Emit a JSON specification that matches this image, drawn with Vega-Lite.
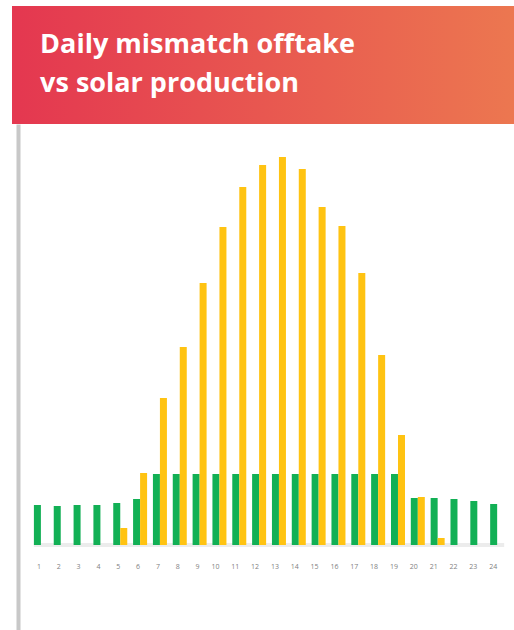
{
  "$schema": "https://vega.github.io/schema/vega-lite/v6.json",
  "padding": {"left": 12, "top": 6, "right": 0, "bottom": 0},
  "spacing": 0,
  "background": "white",
  "config": {"view": {"stroke": null}, "font": "Open Sans"},
  "datasets": {
    "header": [{"title": "Daily mismatch offtake vs solar production"}],
    "hourly": [
      {"hour": 1, "series": "Offtake", "value": 4.0}, {"hour": 1, "series": "Solar production", "value": 0},
      {"hour": 2, "series": "Offtake", "value": 3.9}, {"hour": 2, "series": "Solar production", "value": 0},
      {"hour": 3, "series": "Offtake", "value": 4.0}, {"hour": 3, "series": "Solar production", "value": 0},
      {"hour": 4, "series": "Offtake", "value": 4.0}, {"hour": 4, "series": "Solar production", "value": 0},
      {"hour": 5, "series": "Offtake", "value": 4.2}, {"hour": 5, "series": "Solar production", "value": 1.7},
      {"hour": 6, "series": "Offtake", "value": 4.6}, {"hour": 6, "series": "Solar production", "value": 7.2},
      {"hour": 7, "series": "Offtake", "value": 7.1}, {"hour": 7, "series": "Solar production", "value": 14.7},
      {"hour": 8, "series": "Offtake", "value": 7.1}, {"hour": 8, "series": "Solar production", "value": 19.8},
      {"hour": 9, "series": "Offtake", "value": 7.1}, {"hour": 9, "series": "Solar production", "value": 26.2},
      {"hour": 10, "series": "Offtake", "value": 7.1}, {"hour": 10, "series": "Solar production", "value": 31.8},
      {"hour": 11, "series": "Offtake", "value": 7.1}, {"hour": 11, "series": "Solar production", "value": 35.8},
      {"hour": 12, "series": "Offtake", "value": 7.1}, {"hour": 12, "series": "Solar production", "value": 38.0},
      {"hour": 13, "series": "Offtake", "value": 7.1}, {"hour": 13, "series": "Solar production", "value": 38.8},
      {"hour": 14, "series": "Offtake", "value": 7.1}, {"hour": 14, "series": "Solar production", "value": 37.6},
      {"hour": 15, "series": "Offtake", "value": 7.1}, {"hour": 15, "series": "Solar production", "value": 33.8},
      {"hour": 16, "series": "Offtake", "value": 7.1}, {"hour": 16, "series": "Solar production", "value": 31.9},
      {"hour": 17, "series": "Offtake", "value": 7.1}, {"hour": 17, "series": "Solar production", "value": 27.2},
      {"hour": 18, "series": "Offtake", "value": 7.1}, {"hour": 18, "series": "Solar production", "value": 19.0},
      {"hour": 19, "series": "Offtake", "value": 7.1}, {"hour": 19, "series": "Solar production", "value": 11.0},
      {"hour": 20, "series": "Offtake", "value": 4.7}, {"hour": 20, "series": "Solar production", "value": 4.8},
      {"hour": 21, "series": "Offtake", "value": 4.7}, {"hour": 21, "series": "Solar production", "value": 0.7},
      {"hour": 22, "series": "Offtake", "value": 4.6}, {"hour": 22, "series": "Solar production", "value": 0},
      {"hour": 23, "series": "Offtake", "value": 4.4}, {"hour": 23, "series": "Solar production", "value": 0},
      {"hour": 24, "series": "Offtake", "value": 4.1}, {"hour": 24, "series": "Solar production", "value": 0}
    ]
  },
  "vconcat": [
    {
      "width": 502,
      "height": 118,
      "data": {"name": "header"},
      "layer": [
        {
          "mark": {
            "type": "rect",
            "fill": {
              "gradient": "linear",
              "x1": 0, "y1": 0, "x2": 1, "y2": 0,
              "stops": [
                {"offset": 0, "color": "#E43750"},
                {"offset": 1, "color": "#EC7750"}
              ]
            }
          },
          "encoding": {
            "x": {"datum": 0, "type": "quantitative", "scale": {"domain": [0, 1], "nice": false, "zero": false}, "axis": null},
            "x2": {"datum": 1},
            "y": {"datum": 0, "type": "quantitative", "scale": {"domain": [0, 1], "nice": false, "zero": false}, "axis": null},
            "y2": {"datum": 1}
          }
        },
        {
          "mark": {
            "type": "text",
            "align": "left",
            "baseline": "alphabetic",
            "font": "Open Sans",
            "fontWeight": "bold",
            "fontSize": 27,
            "lineHeight": 39,
            "color": "white"
          },
          "encoding": {
            "x": {"datum": 0.056, "type": "quantitative"},
            "y": {"datum": 0.6, "type": "quantitative"},
            "text": {"value": ["Daily mismatch offtake", "vs solar production"]}
          }
        }
      ]
    },
    {
      "width": 502,
      "height": 506,
      "layer": [
        {
          "data": {"values": [{}]},
          "mark": {"type": "rule", "color": "#ECECEC", "strokeWidth": 4},
          "encoding": {
            "x": {"datum": 1, "type": "ordinal", "bandPosition": 0},
            "x2": {"datum": 24, "bandPosition": 1},
            "y": {"datum": 0, "type": "quantitative"}
          }
        },
        {
          "data": {"name": "hourly"},
          "mark": {"type": "bar"},
          "encoding": {
            "x": {
              "field": "hour",
              "type": "ordinal",
              "scale": {"paddingInner": 0.294, "paddingOuter": 0.8, "align": 0.69},
              "axis": {
                "orient": "bottom",
                "offset": -85,
                "domain": false,
                "ticks": false,
                "labelAngle": 0,
                "labelFont": "Open Sans",
                "labelFontSize": 7,
                "labelColor": "#7F7F7F",
                "labelPadding": 21,
                "title": null
              }
            },
            "xOffset": {
              "field": "series",
              "type": "nominal",
              "scale": {"domain": ["Offtake", "Solar production"], "paddingInner": 0, "paddingOuter": 0}
            },
            "y": {
              "field": "value",
              "type": "quantitative",
              "scale": {"domain": [-8.5, 42.1], "nice": false, "zero": false},
              "axis": {
                "orient": "left",
                "offset": -6,
                "domain": true,
                "domainColor": "#C8C8C8",
                "domainWidth": 4,
                "ticks": false,
                "labels": false,
                "grid": false,
                "title": null
              }
            },
            "y2": {"datum": 0},
            "color": {
              "field": "series",
              "type": "nominal",
              "scale": {"domain": ["Offtake", "Solar production"], "range": ["#12B055", "#FFC312"]},
              "legend": null
            }
          }
        }
      ]
    }
  ]
}
